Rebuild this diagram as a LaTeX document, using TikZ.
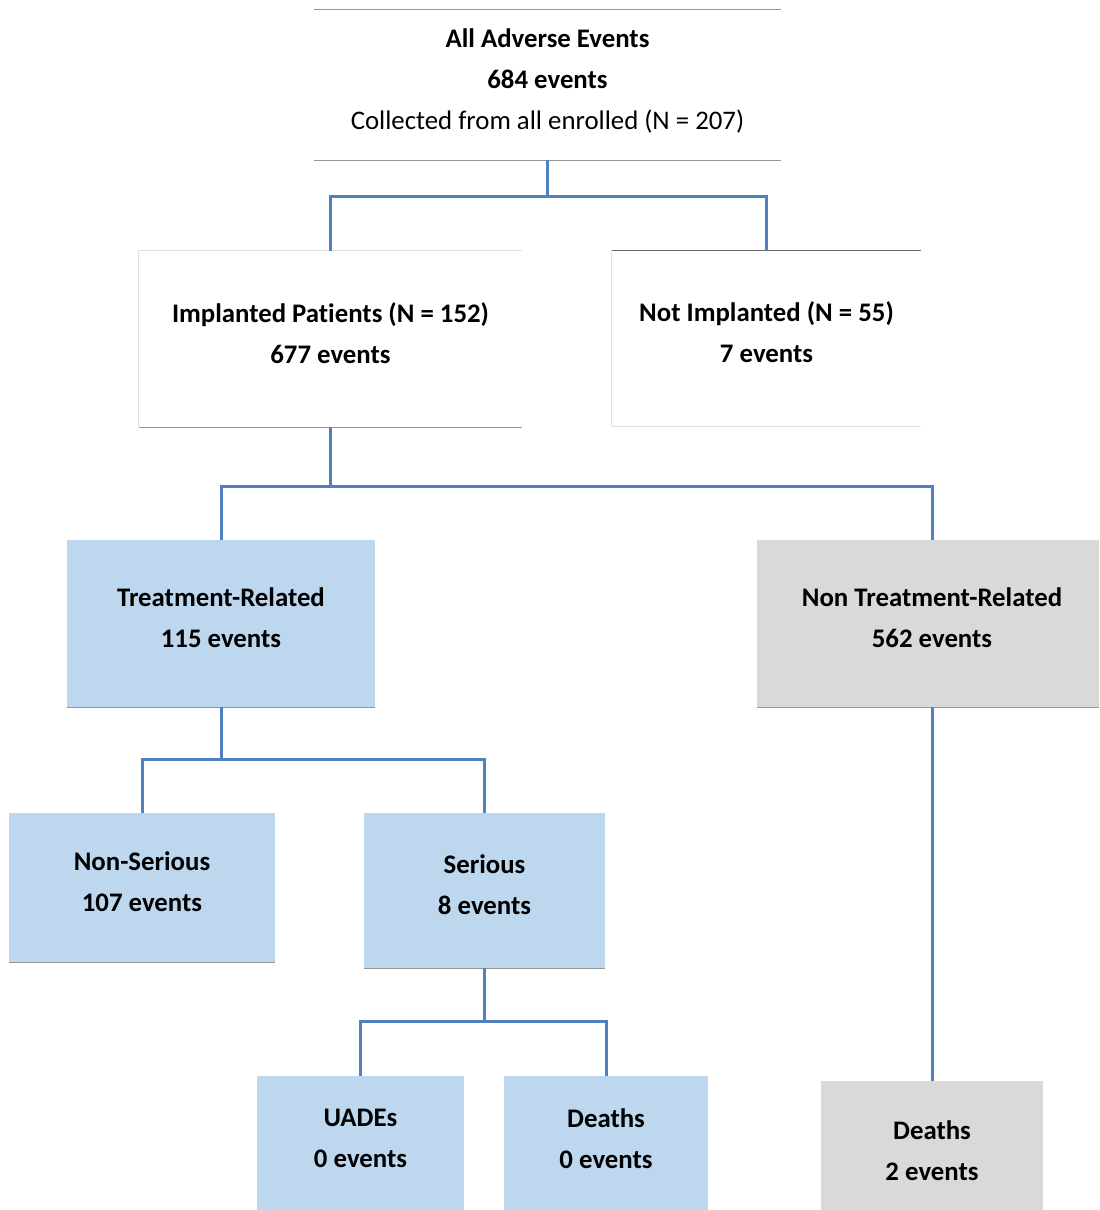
\documentclass[tikz,border=0pt]{standalone}
\usepackage{fontspec}
\setmainfont{Carlito}[Ligatures=NoCommon]
\usepackage{tikz}
\usetikzlibrary{positioning,calc}
\definecolor{linkblue}{RGB}{79,129,189}
\definecolor{boxblue}{RGB}{189,215,238}
\definecolor{boxgrey}{RGB}{217,217,217}
\definecolor{rulegrey}{RGB}{150,150,150}

\begin{document}
\begin{tikzpicture}[
		x=0.5pt, y=-0.5pt,
		box/.style={inner sep=0pt, align=center, font=\fontsize{13.4}{20.5}\selectfont\bfseries,
			execute at end node={\rule[-6pt]{0pt}{0pt}}},
		bluebox/.style={box, fill=boxblue},
		greybox/.style={box, fill=boxgrey},
		link/.style={draw=linkblue, line width=1.5pt},
		edge/.style={draw=rulegrey, line width=0.6pt},
		faint/.style={draw=black!12, line width=0.5pt}
		]
		
		\clip (0,0) rectangle (1099,1210);
		
		% ===== top level =====
		\node[box, minimum width=233.5pt, minimum height=75pt] (all) at (547.5,85)
		{All Adverse Events\\684 events\\{\mdseries Collected from all enrolled (N = 207)}};
		\draw[edge] (all.north west) -- (all.north east);
		\draw[edge] (all.south west) -- (all.south east);
		
		% ===== implanted / not implanted =====
		\node[box, minimum width=191.5pt, minimum height=88pt] (impl) at (330.5,339)
		{Implanted Patients (N = 152)\\677 events};
		\node[box, minimum width=154.5pt, minimum height=87.5pt] (notimpl) at (766.5,338.5)
		{Not Implanted (N = 55)\\7 events};
		\draw[faint] (impl.south west) -- (impl.north west) -- (impl.north east);
		\draw[edge] (impl.south west) -- (impl.south east);
		\draw[faint] (notimpl.north west) -- (notimpl.south west) -- (notimpl.south east);
		\draw[draw=black!60, line width=0.6pt] (notimpl.north west) -- (notimpl.north east);
		
		% ===== treatment related or not =====
		\node[bluebox, minimum width=154pt, minimum height=83.5pt] (treat) at (221,623.5)
		{Treatment-Related\\115 events};
		\node[greybox, minimum width=175pt, minimum height=83.5pt] (nontreat) at (932,623.5)
		{Non Treatment-Related\\562 events};
		\draw[edge] (treat.south west) -- (treat.south east);
		\draw[edge] (nontreat.south west) -- (nontreat.south east);
		
		% ===== serious or not =====
		\node[bluebox, minimum width=133pt, minimum height=74.5pt] (nonser) at (142,887.5)
		{Non-Serious\\107 events};
		\node[bluebox, minimum width=120.5pt, minimum height=77.5pt] (ser) at (484.5,890.5)
		{Serious\\8 events};
		\draw[edge] (nonser.south west) -- (nonser.south east);
		\draw[edge] (ser.south west) -- (ser.south east);
		
		% ===== bottom row =====
		\node[bluebox, minimum width=103.5pt, minimum height=68.5pt] (uade) at (360.5,1144.5)
		{UADEs\\0 events};
		\node[bluebox, minimum width=102pt, minimum height=68.5pt] (deathtr) at (606,1144.5)
		{Deaths\\0 events};
		\node[greybox, minimum width=111pt, minimum height=76pt] (deathnt) at (932,1157)
		{Deaths\\2 events};
		
		% ===== connectors =====
		\coordinate (j1) at ($(all.south)+(0,36)$);
		\draw[link] (all.south) -- (j1) -| (impl.north);
		\draw[link] (j1) -| (notimpl.north);
		
		\coordinate (j2) at ($(impl.south)+(0,59)$);
		\draw[link] (impl.south) -- (j2) -| (treat.north);
		\draw[link] (j2) -| (nontreat.north);
		
		\coordinate (j3) at ($(treat.south)+(0,52)$);
		\draw[link] (treat.south) -- (j3) -| (nonser.north);
		\draw[link] (j3) -| (ser.north);
		
		\coordinate (j4) at ($(ser.south)+(0,53)$);
		\draw[link] (ser.south) -- (j4) -| (uade.north);
		\draw[link] (j4) -| (deathtr.north);
		
		\draw[link] (nontreat.south) -- (deathnt.north);
		
	\end{tikzpicture}
\end{document}
